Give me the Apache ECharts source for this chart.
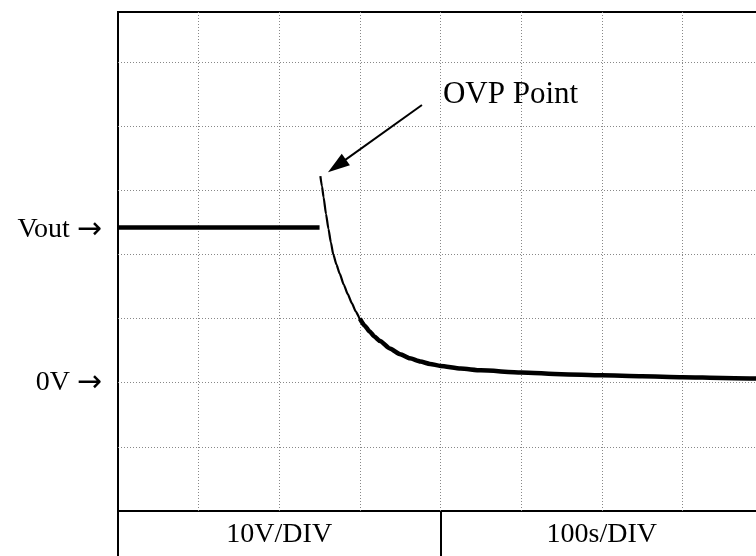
<!DOCTYPE html>
<html>
<head>
<meta charset="utf-8">
<script src="https://cdn.jsdelivr.net/npm/echarts@6/dist/echarts.min.js"></script>
<style>
  html, body { margin: 0; padding: 0; background: #fff; }
  #chart { width: 756px; height: 556px; }
</style>
</head>
<body>
<div id="chart"></div>
<script>
// time in s, voltage in V (10V/DIV, 100s/DIV)
const tFlat = [0, 250];
const vFlat = [24.2, 24.2];

const tDrop = [251, 253, 255, 258, 261, 264, 267, 271, 275, 280, 285, 290, 295, 300, 306];
const vDrop = [32.2, 30.6, 28.9, 26.3, 24.0, 21.9, 20.0, 18.4, 17.0, 15.3, 13.8, 12.4, 11.1, 10.0, 8.9];

const tTail = [300, 306, 312, 318, 325, 337, 350, 362, 375, 387, 400, 425, 450, 500, 550, 600, 650, 700, 750, 800];
const vTail = [10.0, 8.9, 8.0, 7.2, 6.5, 5.35, 4.45, 3.8, 3.3, 2.93, 2.62, 2.2, 1.93, 1.6, 1.32, 1.15, 1.0, 0.85, 0.75, 0.65];

const levelValues = [0, 23.8];
const levelNames = ['0V', 'Vout'];

const scaleNames = ['10V/DIV', '100s/DIV'];

// arrow: tail point and head centre (the triangle is centred on the end point)
const arrowFrom = [377, 43.3];
const arrowTo = [271.5, 33.8];
const noteAt = [403, 44.9];
const noteText = 'OVP Point';

const font = 'Liberation Serif, Times New Roman, serif';
const pairs = (xs, ys) => xs.map((x, i) => [x, ys[i]]);
const dotted = { color: '#888', width: 1, type: [1, 2] };

const chart = echarts.init(document.getElementById('chart'), null, { renderer: 'canvas' });

chart.setOption({
  animation: false,
  backgroundColor: '#fff',
  grid: {
    left: 118, top: 12, right: -7, bottom: 45,
    show: true, borderColor: '#000', borderWidth: 2,
    containLabel: false, outerBoundsMode: 'none'
  },
  xAxis: [
    {
      type: 'value', min: 0, max: 800, interval: 100,
      axisLine: { show: false }, axisTick: { show: false }, axisLabel: { show: false },
      splitLine: { show: true, showMinLine: false, showMaxLine: false, lineStyle: dotted }
    },
    {
      type: 'category', position: 'bottom', data: scaleNames, boundaryGap: true,
      axisLine: { show: false },
      axisTick: { show: true, length: 45, lineStyle: { color: '#000', width: 2 } },
      axisLabel: { show: true, margin: 10, color: '#000', fontFamily: font, fontSize: 28 },
      splitLine: { show: false }
    }
  ],
  yAxis: {
    type: 'value', min: -20, max: 57.8, interval: 10,
    axisLine: { show: false }, axisTick: { show: false },
    axisLabel: {
      show: true, customValues: levelValues, margin: 16,
      formatter: v => '{t|' + levelNames[levelValues.indexOf(v)] + ' }{a|→}',
      rich: {
        t: { color: '#000', fontFamily: font, fontSize: 28 },
        a: { color: '#000', fontFamily: 'DejaVu Sans', fontSize: 30 }
      }
    },
    splitLine: { show: true, showMinLine: false, showMaxLine: false, lineStyle: dotted }
  },
  series: [
    {
      type: 'line', xAxisIndex: 0, data: pairs(tFlat, vFlat), showSymbol: false,
      lineStyle: { color: '#000', width: 4.5 }
    },
    {
      type: 'line', xAxisIndex: 0, data: pairs(tDrop, vDrop), showSymbol: false,
      smooth: 0.2, smoothMonotone: 'x',
      lineStyle: { color: '#000', width: 2.2 },
      markLine: {
        silent: true, symbol: ['none', 'triangle'], symbolSize: [14, 22],
        label: { show: false },
        lineStyle: { color: '#000', width: 2, type: 'solid' },
        data: [[{ coord: arrowFrom }, { coord: arrowTo }]]
      },
      markPoint: {
        silent: true, symbol: 'circle', symbolSize: 0,
        label: { show: true, position: 'right', distance: 0, formatter: noteText,
                 color: '#000', fontFamily: font, fontSize: 31 },
        data: [{ coord: noteAt }]
      }
    },
    {
      type: 'line', xAxisIndex: 0, data: pairs(tTail, vTail), showSymbol: false,
      smooth: 0.2, smoothMonotone: 'x',
      lineStyle: { color: '#000', width: 4.5 }
    }
  ]
});
</script>
</body>
</html>
